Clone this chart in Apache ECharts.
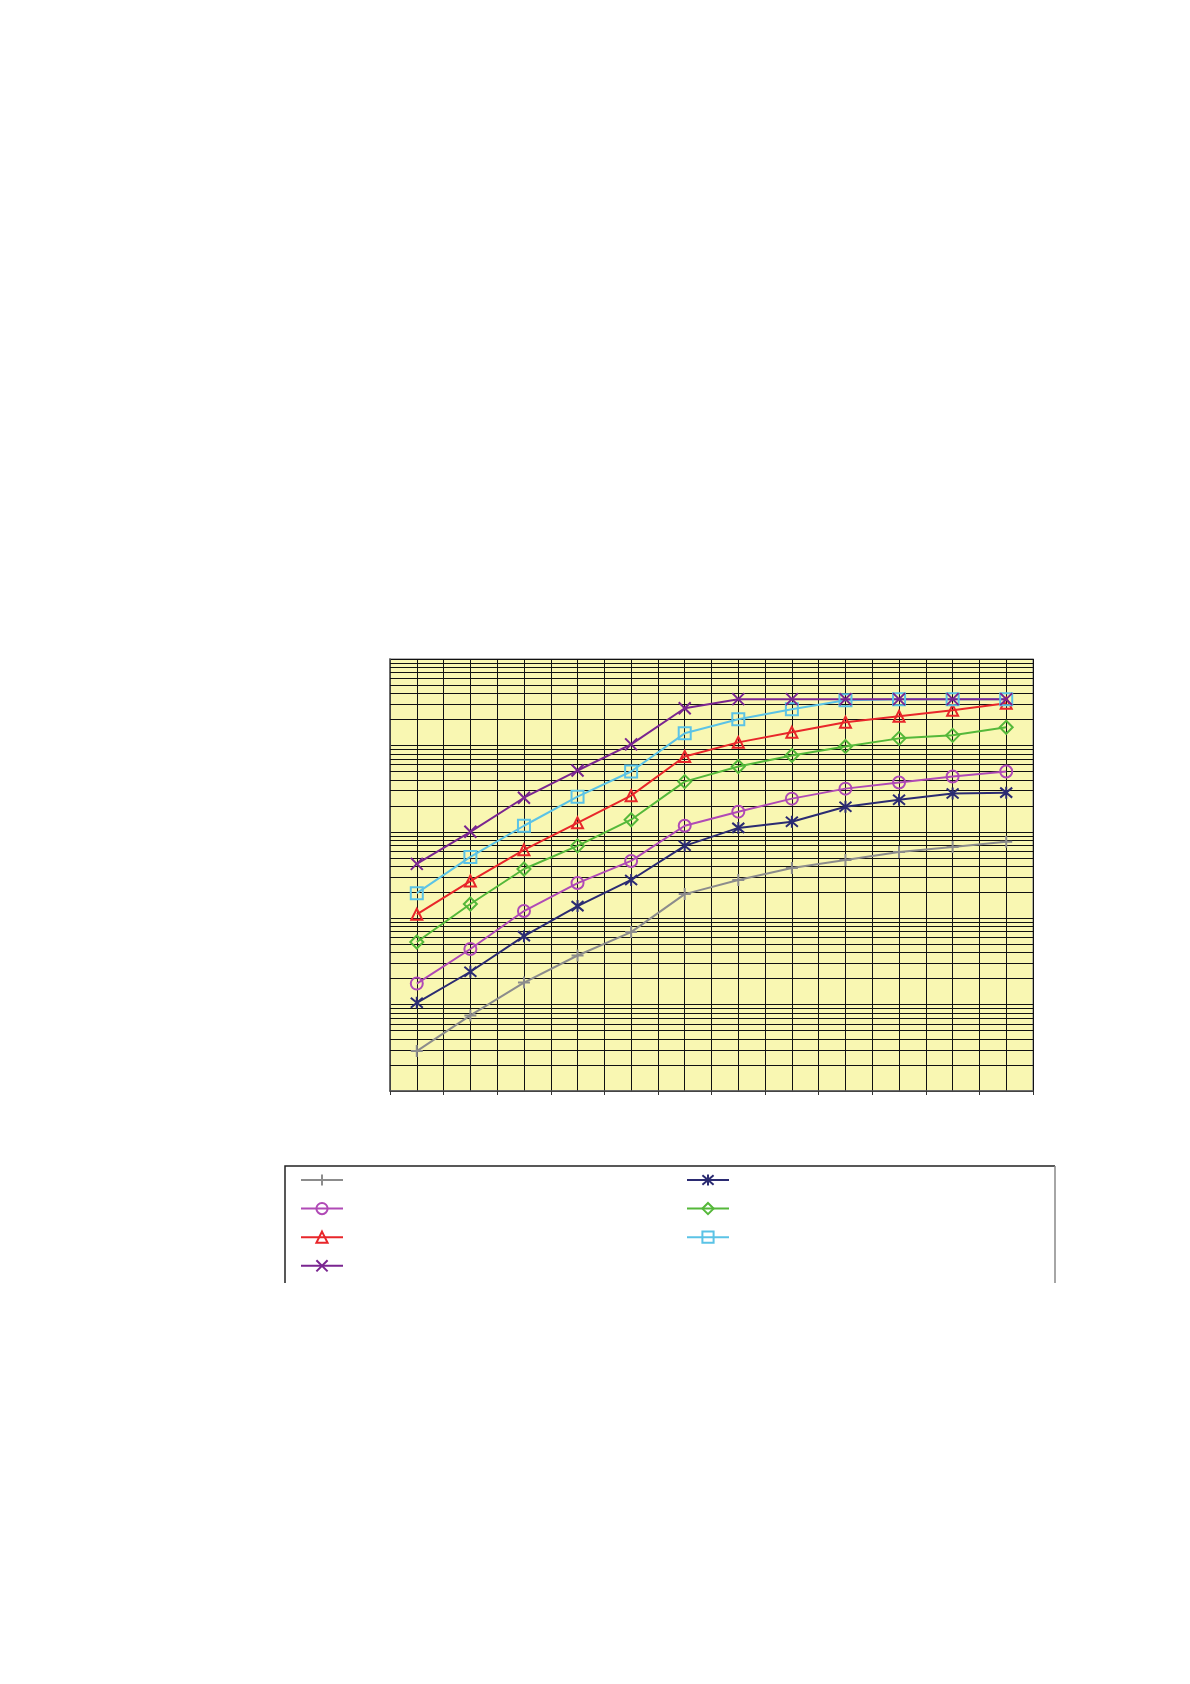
<!DOCTYPE html>
<html>
<head>
<meta charset="utf-8">
<script src="https://cdn.jsdelivr.net/npm/echarts@6/dist/echarts.min.js"></script>
<style>html,body{margin:0;padding:0;background:#fff;}#chart{width:1190px;height:1684px;}</style>
</head>
<body>
<div id="chart"></div>
<script>
// categories (no visible labels in the reference)
const categories = ['1','2','3','4','5','6','7','8','9','10','11','12'];
// series values
const grayPlus     = [2.9, 7.5, 18, 37, 69, 190, 277, 381, 472, 585, 669, 765];
const navyStar     = [10.5, 24, 62, 138, 277, 688, 1110, 1310, 1950, 2350, 2770, 2840];
const magentaCirc  = [17.5, 44, 121, 255, 460, 1175, 1710, 2420, 3160, 3720, 4360, 4990];
const greenDiamond = [53, 146, 371, 688, 1380, 3810, 5700, 7650, 9730, 12060, 13070, 16190];
const redTriangle  = [111, 269, 618, 1270, 2620, 7450, 10840, 14160, 18500, 21730, 25520, 30770];
const blueSquare   = [195, 512, 1175, 2550, 4990, 13800, 20060, 26230, 33360, 34300, 34300, 34300];
const purpleCross  = [425, 1000, 2480, 5120, 10280, 26920, 34300, 34300, 34300, 34300, 34300, 34300];
// y axis range (log)
const yMin = 1, yMax = 100000;

const PLUS = 'path://M5 0L5 10M0 5L10 5';
const CROSS = 'path://M0 0L10 10M10 0L0 10';
const STAR = 'path://M0 0L10 10M10 0L0 10M5 -1L5 11';

// minor horizontal grid lines on the log axis (2..9 within each decade)
const minorY = [];
for (let d = yMin; d < yMax; d *= 10) {
  for (let k = 2; k <= 9; k++) minorY.push({ yAxis: d * k });
}

function mk(name, data, color, symbol, size) {
  return {
    name: name,
    type: 'line',
    xAxisIndex: 0,
    data: data,
    symbol: symbol,
    symbolSize: size,
    showAllSymbol: true,
    lineStyle: { color: color, width: 2 },
    itemStyle: { color: 'rgba(0,0,0,0)', borderColor: color, borderWidth: 2 },
    emphasis: { disabled: true },
    z: 3
  };
}

const series = [
  {
    name: 'grid',
    type: 'line',
    xAxisIndex: 0,
    data: [],
    silent: true,
    markLine: {
      silent: true,
      symbol: ['none', 'none'],
      label: { show: false },
      z: 1,
      animation: false,
      lineStyle: { color: '#111', type: 'solid', width: 1 },
      emphasis: { disabled: true },
      data: minorY
    }
  },
  mk('s1', grayPlus, '#8c8c8c', PLUS, 12),
  mk('s2', navyStar, '#2b2b72', STAR, 12),
  mk('s3', magentaCirc, '#b04ab6', 'circle', 12),
  mk('s4', greenDiamond, '#55b83a', 'diamond', 13),
  mk('s5', redTriangle, '#e8262a', 'triangle', 11),
  mk('s6', blueSquare, '#5bc3e6', 'rect', 12),
  mk('s7', purpleCross, '#7a2590', CROSS, 12)
];

const chart = echarts.init(document.getElementById('chart'), null, { renderer: 'canvas' });
chart.setOption({
  animation: false,
  backgroundColor: '#ffffff',
  grid: {
    left: 390, right: 157, top: 659, bottom: 593,
    show: true,
    backgroundColor: '#f9f7b2',
    borderColor: '#9a9a9a',
    borderWidth: 1.5
  },
  xAxis: [
    {
      type: 'category',
      data: categories,
      boundaryGap: true,
      axisLine: { show: true, lineStyle: { color: '#555', width: 1.5 } },
      axisTick: { show: true, length: 4, lineStyle: { color: '#333', width: 1 } },
      axisLabel: { show: false },
      splitLine: { show: true, lineStyle: { color: '#111', width: 1 } }
    },
    {
      type: 'category',
      data: categories.flatMap(c => [c + 'a', c + 'b']),
      boundaryGap: true,
      position: 'bottom',
      axisLine: { show: false },
      axisTick: { show: false },
      axisLabel: { show: false },
      splitLine: { show: true, lineStyle: { color: '#111', width: 1 } }
    }
  ],
  yAxis: {
    type: 'log',
    logBase: 10,
    min: yMin,
    max: yMax,
    axisLine: { show: true, lineStyle: { color: '#555', width: 1.5 } },
    axisTick: { show: false },
    axisLabel: { show: false },
    splitLine: { show: true, lineStyle: { color: '#111', width: 1 } }
  },
  legend: [
    {
      orient: 'vertical',
      left: 300, top: 1173,
      padding: 0,
      itemWidth: 42, itemHeight: 14, itemGap: 15,
      formatter: function () { return ''; },
      selectedMode: false,
      data: ['s1', 's3', 's5', 's7']
    },
    {
      orient: 'vertical',
      left: 686, top: 1173,
      padding: 0,
      itemWidth: 42, itemHeight: 14, itemGap: 15,
      formatter: function () { return ''; },
      selectedMode: false,
      data: ['s2', 's4', 's6']
    }
  ],
  graphic: [
    {
      type: 'polyline',
      silent: true,
      shape: { points: [[285, 1283], [285, 1166], [1055, 1166]] },
      style: { stroke: '#222', lineWidth: 1.5, fill: null }
    },
    {
      type: 'line',
      silent: true,
      shape: { x1: 1055, y1: 1166, x2: 1055, y2: 1283 },
      style: { stroke: '#888', lineWidth: 1.5 }
    }
  ],
  series: series
});
</script>
</body>
</html>
